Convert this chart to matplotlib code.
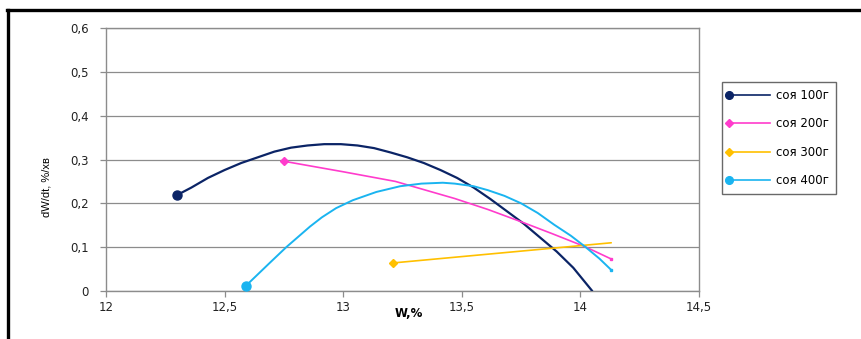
"""
dW/dt vs W curves for soya drying runs (100-400 g).
"""

import matplotlib
matplotlib.use("Agg")
import matplotlib.pyplot as plt
import matplotlib as mpl
from matplotlib.lines import Line2D
from matplotlib.legend_handler import HandlerLine2D

# --- data ---

w_100 = [12.30, 12.36, 12.43, 12.50, 12.57, 12.64, 12.71, 12.78, 12.85, 12.92,
         12.99, 13.06, 13.13, 13.20, 13.27, 13.34, 13.41, 13.48, 13.55, 13.62,
         13.69, 13.76, 13.83, 13.90, 13.97, 14.05]
v_100 = [0.219, 0.236, 0.258, 0.276, 0.292, 0.305, 0.318, 0.327, 0.332, 0.335,
         0.335, 0.332, 0.326, 0.316, 0.305, 0.292, 0.276, 0.258, 0.236, 0.210,
         0.182, 0.154, 0.122, 0.090, 0.053, 0.0]

w_200 = [12.75, 13.00, 13.22, 13.47, 13.61, 13.75, 13.88, 14.02, 14.13]
v_200 = [0.296, 0.272, 0.250, 0.211, 0.186, 0.158, 0.131, 0.101, 0.073]

w_300 = [13.21, 14.13]
v_300 = [0.064, 0.110]

w_400 = [12.59, 12.64, 12.69, 12.76, 12.86, 12.91, 12.97, 13.04, 13.14, 13.24,
         13.33, 13.42, 13.47, 13.55, 13.61, 13.68, 13.75, 13.82, 13.89, 13.96,
         14.02, 14.08, 14.13]
v_400 = [0.012, 0.038, 0.064, 0.100, 0.147, 0.168, 0.189, 0.207, 0.226, 0.239,
         0.245, 0.247, 0.245, 0.239, 0.230, 0.217, 0.200, 0.178, 0.151, 0.126,
         0.101, 0.074, 0.048]

labels = ["соя 100г", "соя 200г", "соя 300г", "соя 400г"]

x_ticks = [12, 12.5, 13, 13.5, 14, 14.5]
y_ticks = [0, 0.1, 0.2, 0.3, 0.4, 0.5, 0.6]

NAVY = "#0b2466"
PINK = "#ff3ccc"
GOLD = "#ffc000"
CYAN = "#1ab4f0"
GRID = "#8c8c8c"

mpl.rcParams.update({
    "font.family": ["DejaVu Sans"],
    "font.size": 8.5,
})


class StartMarker(HandlerLine2D):
    """legend line with the marker at the left end, like excel."""
    def create_artists(self, *args, **kwargs):
        arts = super().create_artists(*args, **kwargs)
        for a in arts:
            a.set_markevery([0])
        return arts


def fmt(v):
    return f"{v:g}".replace(".", ",")


fig = plt.figure(figsize=(8.62, 3.39), dpi=100)
ax = fig.add_axes([106 / 862, 48 / 339, 593 / 862, 263 / 339])

series = [
    (w_100, v_100, NAVY, "o", 6.5, 1.6),
    (w_200, v_200, PINK, "D", 4.5, 1.2),
    (w_300, v_300, GOLD, "D", 4.5, 1.2),
    (w_400, v_400, CYAN, "o", 6.5, 1.4),
]

handles = []
for (w, v, c, m, ms, lw), lab in zip(series, labels):
    ax.plot(w, v, color=c, lw=lw, solid_capstyle="round",
            solid_joinstyle="round", zorder=3)
    ax.plot(w[:1], v[:1], ls="none", marker=m, ms=ms, color=c, zorder=4)
    if c in (PINK, CYAN):
        ax.plot(w[-1:], v[-1:], ls="none", marker="s", ms=2, color=c, zorder=4)
    handles.append(Line2D([0], [0], color=c, lw=1.2, marker=m, ms=ms * 0.85))

ax.set_xlim(12, 14.5)
ax.set_ylim(0, 0.6)
ax.set_xticks(x_ticks)
ax.set_yticks(y_ticks)
ax.set_xticklabels([fmt(t) for t in x_ticks])
ax.set_yticklabels([fmt(t) for t in y_ticks])
ax.tick_params(direction="out", length=4, width=0.9, color=GRID,
               labelsize=8.5, labelcolor="#222222", pad=3)
ax.tick_params(axis="y", pad=8.5)
ax.yaxis.grid(True, color=GRID, lw=0.9)
ax.set_axisbelow(True)
for s in ax.spines.values():
    s.set_color(GRID)
    s.set_linewidth(1.0)

ax.set_xlabel("W,%", fontsize=8.5, fontweight="bold")
ax.xaxis.set_label_coords(0.51, -0.06)
fig.text(47 / 862, 1 - 187 / 339, "dW/dt, %/хв", rotation=90,
         ha="center", va="center", fontsize=8,
         family=["Liberation Sans Narrow", "Liberation Sans", "DejaVu Sans"])

leg = fig.legend(
    handles, labels,
    loc="upper left",
    bbox_to_anchor=(722 / 862, 1 - 82 / 339),
    handler_map={Line2D: StartMarker()},
    frameon=True, fancybox=False, fontsize=8.5,
    handlelength=3.5, handletextpad=0.45, labelspacing=1.3,
    borderpad=0.6, borderaxespad=0,
)
leg.get_frame().set_edgecolor("#444444")
leg.get_frame().set_linewidth(1.0)

# black frame on the top and left edges
fig.add_artist(Line2D([7 / 862, 1], [1 - 10 / 339, 1 - 10 / 339],
                      transform=fig.transFigure, color="black", lw=2.4))
fig.add_artist(Line2D([8 / 862, 8 / 862], [0, 1 - 10 / 339],
                      transform=fig.transFigure, color="black", lw=2.4))

fig.savefig("out.png", dpi=100)
